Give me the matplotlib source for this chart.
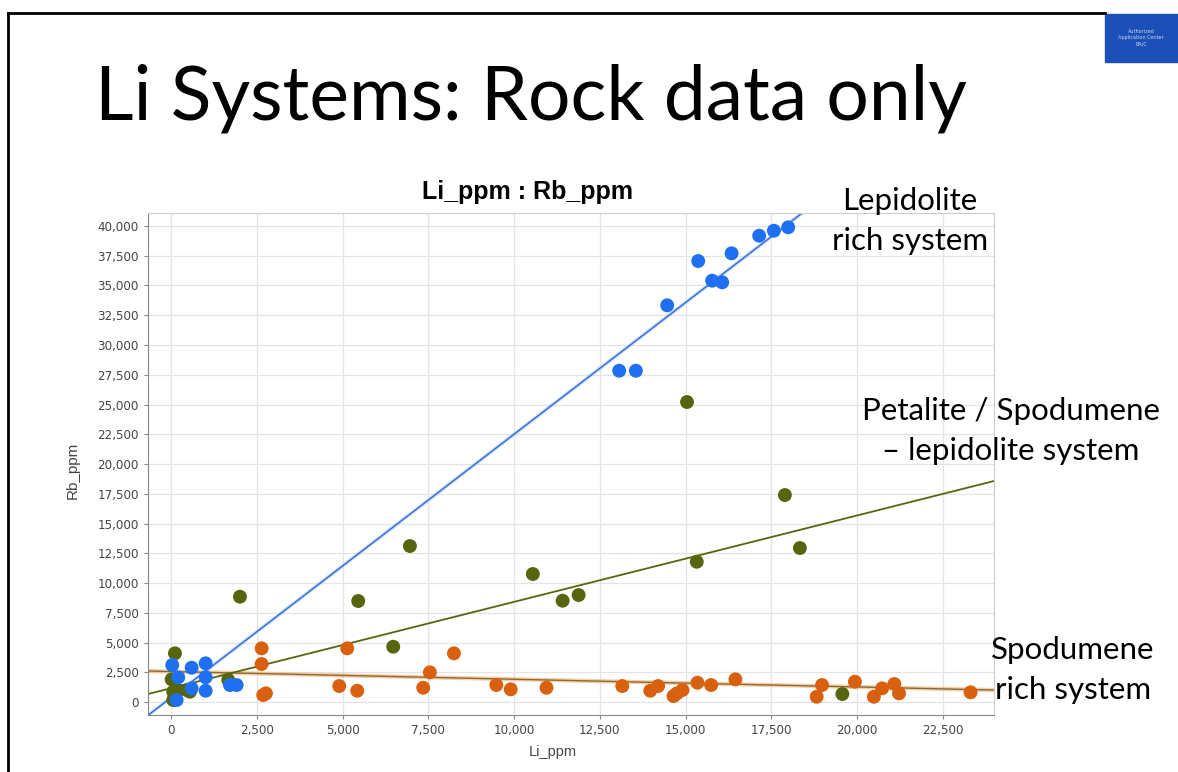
import matplotlib
matplotlib.use('Agg')
import matplotlib.pyplot as plt
import numpy as np
from matplotlib.ticker import FuncFormatter, MultipleLocator
from matplotlib.patches import Rectangle
from matplotlib.lines import Line2D

# Lepidolite rich system (blue)
lepi_li = [38, 603, 1011, 213, 1011, 603, 1011, 166, 1719, 1914,
           13063, 13550, 14462, 15366, 15773, 16065, 16339, 17143, 17571, 17988]
lepi_rb = [3109, 2882, 3252, 2076, 2076, 1151, 950, 168, 1429, 1429,
           27839, 27839, 33335, 37057, 35402, 35267, 37704, 39183, 39603, 39889]

# Petalite / Spodumene - lepidolite system (green)
peta_li = [117, 20, 67, 204, 457, 67, 554, 1670, 2011, 5458, 6478, 6964,
           10547, 11414, 11881, 15324, 15040, 17892, 18329, 19567]
peta_rb = [4092, 1907, 866, 1008, 1008, 168, 866, 1849, 8849, 8487, 4647, 13109,
           10756, 8513, 8991, 11789, 25209, 17394, 12940, 672]

# Spodumene rich system (orange)
spod_li = [2643, 2643, 2690, 2768, 5138, 4904, 5429, 7352, 7547, 8247,
           9483, 9902, 10945, 13153, 13968, 14197, 14646, 14750, 14908, 15344,
           15742, 16450, 18819, 18975, 19933, 20486, 20727, 21081, 21218, 23304]
spod_rb = [4512, 3193, 588, 731, 4512, 1344, 950, 1202, 2496, 4092,
           1429, 1067, 1202, 1344, 950, 1344, 504, 731, 1008, 1622,
           1429, 1907, 445, 1429, 1706, 445, 1151, 1513, 731, 815]

# trend lines: slope, intercept
lepi_fit = [2.214, 363]
peta_fit = [0.726, 1158]
spod_fit = [-0.0648, 2562]

blue = '#1f6ff2'
green = '#56660f'
orange = '#d9600f'

fig = plt.figure(figsize=(11.78, 7.72), dpi=100)
ax = fig.add_axes([0.1256, 0.0738, 0.7182, 0.6503])

xmin, xmax = -670, 23986
ymin, ymax = -1092, 41092
xs = np.array([xmin, xmax])

ax.plot(xs, spod_fit[0] * xs + spod_fit[1], color='#f0b070', lw=3, alpha=0.6, zorder=2)
ax.plot(xs, spod_fit[0] * xs + spod_fit[1], color='#8a6a30', lw=1, zorder=2)
ax.plot(xs, peta_fit[0] * xs + peta_fit[1], color=green, lw=1.3, zorder=2)
ax.plot(xs, lepi_fit[0] * xs + lepi_fit[1], color='#9cc4ff', lw=2.6, alpha=0.6, zorder=2)
ax.plot(xs, lepi_fit[0] * xs + lepi_fit[1], color='#3a6ad0', lw=1, zorder=2)

ax.scatter(spod_li, spod_rb, s=100, color=orange, edgecolors='none', zorder=3)
ax.scatter(peta_li, peta_rb, s=100, color=green, edgecolors='none', zorder=4)
ax.scatter(lepi_li, lepi_rb, s=100, color=blue, edgecolors='none', zorder=5)

ax.set_xlim(xmin, xmax)
ax.set_ylim(ymin, ymax)
ax.xaxis.set_major_locator(MultipleLocator(2500))
ax.yaxis.set_major_locator(MultipleLocator(2500))
fmt = FuncFormatter(lambda v, p: '{:,.0f}'.format(v))
ax.xaxis.set_major_formatter(fmt)
ax.yaxis.set_major_formatter(fmt)
ax.tick_params(labelsize=8.6, labelcolor='#444444', color='#888888', length=3, width=0.8)
for lab in ax.get_xticklabels() + ax.get_yticklabels():
    lab.set_family('DejaVu Sans')
ax.grid(True, color='#e4e4e4', lw=0.9)
ax.set_axisbelow(True)
for side in ['top', 'right']:
    ax.spines[side].set_color('#cccccc')
for side in ['left', 'bottom']:
    ax.spines[side].set_color('#888888')

fig.text(0.4482, 0.7513, 'Li_ppm : Rb_ppm', ha='center', va='center',
         fontsize=18, fontweight='bold', family='Liberation Sans')
fig.text(0.4694, 0.0259, 'Li_ppm', ha='center', va='center',
         fontsize=10.5, color='#444444', family='Liberation Sans')
fig.text(0.062, 0.391, 'Rb_ppm', ha='center', va='center', rotation=90,
         fontsize=11, color='#444444', family='Liberation Sans')

# slide text
fig.text(0.0806, 0.8446, 'Li Systems: Rock data only', ha='left', va='baseline',
         fontsize=54, family='Lato')
fig.text(0.7725, 0.7137, 'Lepidolite\nrich system', ha='center', va='center',
         fontsize=22.5, family='Lato', linespacing=1.5)
fig.text(0.8580, 0.4417, 'Petalite / Spodumene\n\u2013 lepidolite system', ha='center', va='center',
         fontsize=22.5, family='Lato', linespacing=1.5)
fig.text(0.9109, 0.1321, 'Spodumene\nrich system', ha='center', va='center',
         fontsize=22.5, family='Lato', linespacing=1.5)

# slide frame and logo
fig.add_artist(Line2D([8 / 1178, 1105 / 1178], [1 - 13 / 772, 1 - 13 / 772],
                      transform=fig.transFigure, color='black', lw=2))
fig.add_artist(Line2D([8 / 1178, 8 / 1178], [0, 1 - 13 / 772],
                      transform=fig.transFigure, color='black', lw=2))
fig.add_artist(Rectangle((1105 / 1178, 1 - 62 / 772), 73 / 1178, 48 / 772,
                         transform=fig.transFigure, color='#1d4fb8'))
fig.text(1141 / 1178, 1 - 38 / 772, 'Authorized\nApplication Center\nBA/C', ha='center',
         va='center', fontsize=3.5, color='#c8d4f0', linespacing=1.3)

fig.savefig('out.png', dpi=100)
